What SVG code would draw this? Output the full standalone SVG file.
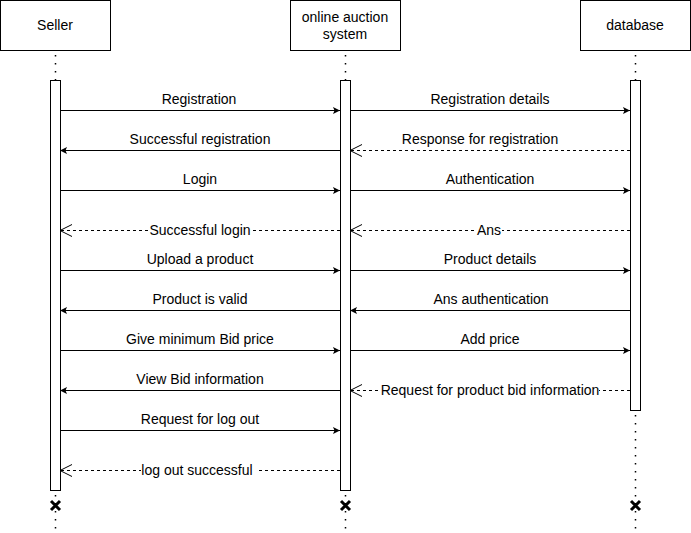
<svg xmlns="http://www.w3.org/2000/svg" width="691" height="533" viewBox="0 0 691 533">
<style>
text{font-family:"Liberation Sans",Arial,sans-serif;font-size:14px;fill:#000;text-anchor:middle}
.box{fill:#fff;stroke:#000;stroke-width:1}
.life{stroke:#000;stroke-width:1.5;stroke-dasharray:1.5 6.5;fill:none}
.act{fill:#fff;stroke:#000;stroke-width:1}
.msg{stroke:#000;stroke-width:1;fill:none}
.ret{stroke:#000;stroke-width:1;fill:none;stroke-dasharray:3 3}
.bg{fill:#fff;stroke:none}
.x{stroke:#000;stroke-width:3;fill:none}
</style>
<defs>
<marker id="fill" markerWidth="8" markerHeight="8" refX="7" refY="4" orient="auto" markerUnits="userSpaceOnUse"><path d="M0,0.5 L7,4 L0,7.5 L1.5,4 Z" fill="#000"/></marker>
<marker id="open" markerWidth="14" markerHeight="14" refX="13" refY="7" orient="auto" markerUnits="userSpaceOnUse"><path d="M1,1 L13,7 L1,13" fill="none" stroke="#000" stroke-width="1"/></marker>
</defs>
<rect width="691" height="533" fill="#fff"/>
<g id="lifelines">
<line class="life" x1="55.5" y1="55" x2="55.5" y2="533"/>
<line class="life" x1="345.5" y1="55" x2="345.5" y2="533"/>
<line class="life" x1="635.5" y1="55" x2="635.5" y2="533"/>
</g>
<g id="seller">
<rect class="box" x="0.5" y="0.5" width="110" height="50"/>
<text x="55" y="30">Seller</text>
<rect class="act" x="50.5" y="80.5" width="10" height="410"/>
<path class="x" d="M51,501 L60,510 M60,501 L51,510"/>
</g>
<g id="system">
<rect class="box" x="290.5" y="0.5" width="110" height="50"/>
<text x="345" y="22">online auction</text>
<text x="345" y="39">system</text>
<rect class="act" x="340.5" y="80.5" width="10" height="410"/>
<path class="x" d="M341,501 L350,510 M350,501 L341,510"/>
</g>
<g id="database">
<rect class="box" x="580.5" y="0.5" width="110" height="50"/>
<text x="635" y="30">database</text>
<rect class="act" x="630.5" y="80.5" width="10" height="330"/>
<path class="x" d="M631,501 L640,510 M640,501 L631,510"/>
</g>
<g id="connectors">
<line class="msg" x1="60" y1="110.5" x2="340" y2="110.5" marker-end="url(#fill)"/>
<text x="199" y="104">Registration</text>
<line class="msg" x1="350" y1="110.5" x2="630" y2="110.5" marker-end="url(#fill)"/>
<text x="490" y="104">Registration details</text>

<line class="msg" x1="340" y1="150.5" x2="60" y2="150.5" marker-end="url(#fill)"/>
<text x="200" y="144">Successful registration</text>
<line class="ret" x1="630" y1="150.5" x2="350" y2="150.5" marker-end="url(#open)"/>
<text x="480" y="144">Response for registration</text>

<line class="msg" x1="60" y1="190.5" x2="340" y2="190.5" marker-end="url(#fill)"/>
<text x="200" y="184">Login</text>
<line class="msg" x1="350" y1="190.5" x2="630" y2="190.5" marker-end="url(#fill)"/>
<text x="490" y="184">Authentication</text>

<line class="ret" x1="340" y1="230.5" x2="60" y2="230.5" marker-end="url(#open)"/>
<rect class="bg" x="150" y="223" width="101" height="15"/>
<text x="200" y="235">Successful login</text>
<line class="ret" x1="630" y1="230.5" x2="350" y2="230.5" marker-end="url(#open)"/>
<rect class="bg" x="477" y="223" width="25" height="15"/>
<text x="489" y="235">Ans</text>

<line class="msg" x1="60" y1="270.5" x2="340" y2="270.5" marker-end="url(#fill)"/>
<text x="200" y="264">Upload a product</text>
<line class="msg" x1="350" y1="270.5" x2="630" y2="270.5" marker-end="url(#fill)"/>
<text x="490" y="264">Product details</text>

<line class="msg" x1="340" y1="310.5" x2="60" y2="310.5" marker-end="url(#fill)"/>
<text x="200" y="304">Product is valid</text>
<line class="msg" x1="630" y1="310.5" x2="350" y2="310.5" marker-end="url(#fill)"/>
<text x="491" y="304">Ans authentication</text>

<line class="msg" x1="60" y1="350.5" x2="340" y2="350.5" marker-end="url(#fill)"/>
<text x="200" y="344">Give minimum Bid price</text>
<line class="msg" x1="350" y1="350.5" x2="630" y2="350.5" marker-end="url(#fill)"/>
<text x="490" y="344">Add price</text>

<line class="msg" x1="340" y1="390.5" x2="60" y2="390.5" marker-end="url(#fill)"/>
<text x="200" y="384">View Bid information</text>
<line class="ret" x1="630" y1="390.5" x2="350" y2="390.5" marker-end="url(#open)"/>
<rect class="bg" x="381" y="383" width="218" height="15"/>
<text x="490" y="395">Request for product bid information</text>

<line class="msg" x1="60" y1="430.5" x2="340" y2="430.5" marker-end="url(#fill)"/>
<text x="200" y="424">Request for log out</text>

<line class="ret" x1="340" y1="470.5" x2="60" y2="470.5" marker-end="url(#open)"/>
<rect class="bg" x="141" y="463" width="117" height="15"/>
<text x="197" y="475">log out successful</text>
</g>
</svg>
